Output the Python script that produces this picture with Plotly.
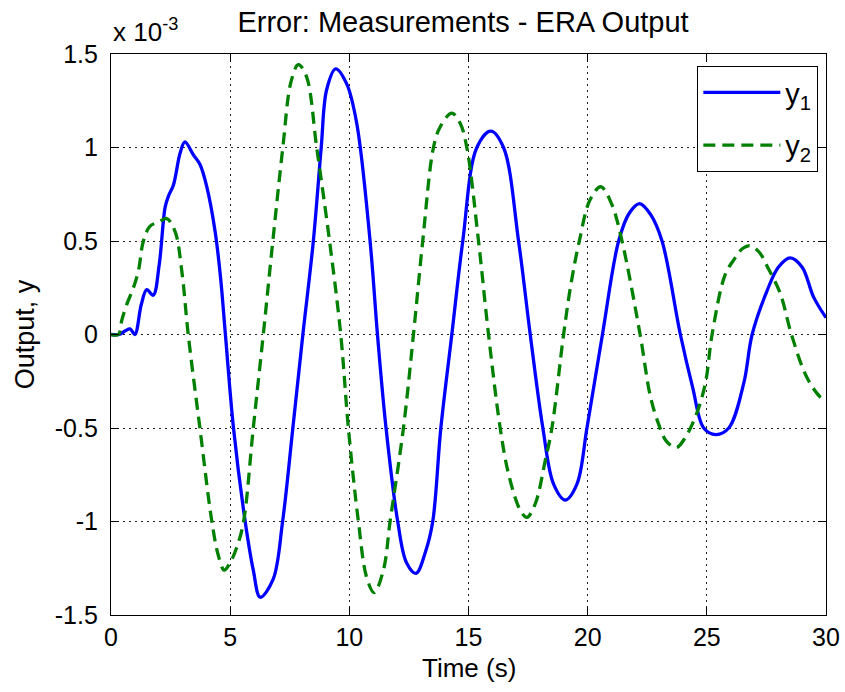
import plotly.graph_objects as go

# ---- data (output values in units of 1e-3) ----
t1 = [0.0, 0.35, 0.6, 0.8, 1.0, 1.27, 1.5, 1.77, 2.02, 2.27, 2.41, 2.62, 2.9, 3.1, 3.46, 3.73, 4.02, 4.37, 4.6,
      4.8, 5.14, 5.63, 5.97, 6.26, 6.8, 7.2, 7.63, 8.05, 8.49, 8.82, 9.05, 9.43, 9.89, 10.31, 10.87, 11.18,
      11.54, 12.03, 12.4, 12.8, 13.2, 13.5, 13.84, 14.3, 14.76, 15.35, 15.94, 16.47, 17.1, 17.59, 18.12,
      18.57, 19.06, 19.55, 19.97, 20.62, 21.3, 21.75, 22.18, 22.65, 23.12, 23.89, 24.4, 24.87, 25.38,
      25.92, 26.55, 26.9, 27.53, 28.0, 28.5, 29.0, 29.48, 30.0]
y1 = [0.0, 0.0, 0.02, 0.03, 0.0, 0.16, 0.24, 0.21, 0.37, 0.68, 0.74, 0.80, 0.97, 1.03, 0.96, 0.91, 0.79, 0.55, 0.3,
      0.0, -0.5, -1.0, -1.26, -1.405, -1.31, -1.0, -0.5, 0.0, 0.5, 1.0, 1.31, 1.42, 1.34, 1.13, 0.5, 0.0,
      -0.5, -1.0, -1.22, -1.277, -1.16, -1.0, -0.5, 0.0, 0.5, 1.0, 1.088, 1.0, 0.5, 0.0, -0.5,
      -0.80, -0.885, -0.80, -0.5, 0.0, 0.5, 0.65, 0.70, 0.64, 0.5, 0.0, -0.28, -0.5, -0.535,
      -0.5, -0.26, 0.0, 0.235, 0.36, 0.41, 0.36, 0.20, 0.09]

t2 = [0.0, 0.31, 0.45, 0.66, 0.94, 1.15, 1.36, 1.64, 1.99, 2.34, 2.69, 2.97, 3.24, 3.73, 4.22, 4.5, 4.75, 5.0,
      5.27, 5.55, 5.97, 6.39, 6.79, 7.21, 7.55, 7.86, 8.2, 8.63, 9.17, 9.64, 9.96, 10.38, 10.73, 11.04,
      11.43, 11.71, 12.27, 12.69, 13.08, 13.53, 13.81, 14.3, 14.65, 14.93, 15.42, 15.84, 16.33, 16.68,
      17.17, 17.45, 17.8, 18.22, 18.5, 18.99, 19.3, 19.65, 20.1, 20.55, 21.0, 21.44, 22.2, 22.63,
      22.98, 23.3, 23.72, 24.1, 24.58, 24.94, 25.22, 25.77, 26.19, 26.5, 26.83, 27.2, 27.55, 28.08,
      28.55, 29.2, 29.77, 30.0]
y2 = [0.0, 0.0, 0.075, 0.16, 0.25, 0.34, 0.5, 0.58, 0.60, 0.62, 0.55, 0.34, 0.0, -0.5, -0.99, -1.18, -1.26, -1.22,
      -1.14, -1.01, -0.5, 0.0, 0.5, 1.0, 1.35, 1.443, 1.38, 1.0, 0.5, 0.0, -0.5, -1.0, -1.30, -1.38,
      -1.26, -1.0, -0.5, 0.0, 0.5, 1.0, 1.11, 1.184, 1.13, 1.0, 0.5, 0.0, -0.5, -0.745,
      -0.94, -0.978, -0.906, -0.674, -0.5, 0.0, 0.27, 0.5, 0.72, 0.79, 0.70, 0.5, 0.0, -0.33,
      -0.48, -0.57, -0.605, -0.55, -0.42, -0.26, 0.0, 0.32, 0.41, 0.46, 0.475, 0.44, 0.36, 0.22,
      0.0, -0.23, -0.335, -0.35]

x_ticks = [0, 5, 10, 15, 20, 25, 30]
y_ticks = [-1.5, -1.0, -0.5, 0.0, 0.5, 1.0, 1.5]
y_tick_text = ["-1.5", "-1", "-0.5", "0", "0.5", "1", "1.5"]

FONT = "Liberation Sans, Arial, sans-serif"

fig = go.Figure()
fig.add_trace(go.Scatter(x=t1, y=y1, mode="lines", name="y<sub>1</sub>",
                         line=dict(color="#0000FF", width=3.3, shape="spline", smoothing=1.0),
                         legendgroup="a"))
fig.add_trace(go.Scatter(x=t2, y=y2, mode="lines", name="y<sub>2</sub>",
                         line=dict(color="#008000", width=3.3, shape="spline", smoothing=1.0, dash="12px,7px"),
                         legendgroup="b"))

axis_common = dict(
    showline=True, linecolor="black", linewidth=1.2, mirror="ticks",
    ticks="inside", ticklen=8, tickcolor="black", tickwidth=1,
    showgrid=True, gridcolor="#222222", gridwidth=1.2, griddash="2px,4px",
    zeroline=False, tickfont=dict(family=FONT, size=25, color="black"),
    automargin=False,
)

fig.update_xaxes(range=[0, 30], tickvals=x_ticks, ticktext=[str(v) for v in x_ticks],
                 ticklabelstandoff=0, **axis_common)
fig.update_yaxes(range=[-1.5, 1.5], tickvals=y_ticks, ticktext=y_tick_text,
                 title=dict(text="Output, y", font=dict(family=FONT, size=27, color="black"), standoff=12),
                 ticklabelstandoff=7, **axis_common)

fig.update_layout(
    width=845, height=692,
    margin=dict(l=111, r=19, t=54, b=77),
    paper_bgcolor="white", plot_bgcolor="white",
    title=dict(text="Error: Measurements - ERA Output", x=0.548, xanchor="center",
               y=1 - 22 / 692, yanchor="middle", yref="container",
               font=dict(family=FONT, size=29, color="black")),
    legend=dict(x=0.989, xanchor="right", y=0.979, yanchor="top",
                bordercolor="black", borderwidth=1.2, bgcolor="white",
                font=dict(family=FONT, size=29, color="black"),
                itemwidth=77, tracegroupgap=12, traceorder="grouped"),
    showlegend=True,
    annotations=[
        dict(text="x 10<sup>-3</sup>", xref="paper", yref="paper", x=0, xanchor="left",
             y=1, yanchor="bottom", yshift=5, showarrow=False,
             font=dict(family=FONT, size=26, color="black")),
        dict(text="Time (s)", xref="paper", yref="paper", x=0.5, xanchor="center",
             y=0, yanchor="middle", yshift=-53, showarrow=False,
             font=dict(family=FONT, size=26, color="black")),
    ],
)

fig.write_html("out.html", config={"displayModeBar": False},
               post_script="document.body.style.margin='0';")
